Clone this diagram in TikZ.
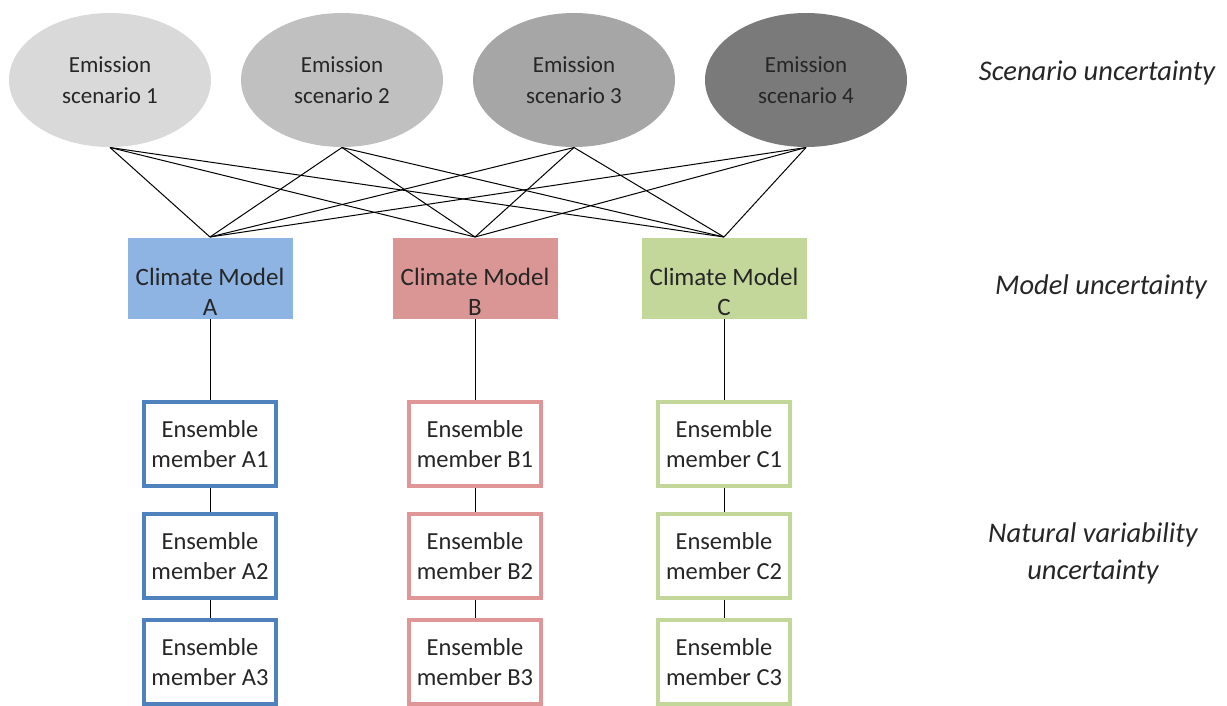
\documentclass[tikz,border=0pt]{standalone}
\usepackage{fontspec}
\setmainfont{Carlito}
\usetikzlibrary{shapes.geometric}
\definecolor{scenone}{RGB}{217,217,217}
\definecolor{scentwo}{RGB}{192,192,192}
\definecolor{scenthree}{RGB}{166,166,166}
\definecolor{scenfour}{RGB}{122,122,122}
\definecolor{modA}{RGB}{141,180,226}
\definecolor{modB}{RGB}{217,150,148}
\definecolor{modC}{RGB}{196,215,155}
\definecolor{lineA}{RGB}{79,129,189}
\definecolor{lineB}{RGB}{224,150,150}
\definecolor{lineC}{RGB}{196,215,155}
\definecolor{txt}{RGB}{38,38,38}
\tikzset{every picture/.style={line width=1pt}}

\begin{document}
\begin{tikzpicture}[x=1pt,y=-1pt]
\useasboundingbox (0,0) rectangle (1227,705);

\begin{scope}[every node/.style={ellipse,minimum width=202pt,minimum height=134pt,
    align=center,text=txt,font=\fontsize{23}{31}\selectfont}]
\node[fill=scenone] (S1) at (110,80) {Emission\\scenario 1};
\node[fill=scentwo] (S2) at (342,80) {Emission\\scenario 2};
\node[fill=scenthree] (S3) at (574,80) {Emission\\scenario 3};
\node[fill=scenfour] (S4) at (806,80) {Emission\\scenario 4};
\end{scope}

\begin{scope}[every node/.style={rectangle,minimum width=165pt,minimum height=81pt},
    every label/.style={align=center,text=txt,font=\fontsize{25}{30}\selectfont,yshift=-14pt}]
\node[fill=modA,label={center:{Climate Model\\A}}] (MA) at (210,278) {};
\node[fill=modB,label={center:{Climate Model\\B}}] (MB) at (475,278) {};
\node[fill=modC,label={center:{Climate Model\\C}}] (MC) at (724,278) {};
\end{scope}

\begin{scope}[every node/.style={rectangle,fill=white,line width=4pt,minimum width=132pt,
    minimum height=84pt,align=center,text=txt,font=\fontsize{24.5}{30}\selectfont}]
\foreach \m/\x/\c in {A/210/lineA,B/475/lineB,C/724/lineC} {
  \node[draw=\c] (\m1) at (\x,444) {Ensemble\\member \m1};
  \node[draw=\c] (\m2) at (\x,556) {Ensemble\\member \m2};
  \node[draw=\c] (\m3) at (\x,662) {Ensemble\\member \m3};
}
\end{scope}

\begin{scope}[every node/.style={align=center,text=txt,font=\fontsize{28.5}{37}\selectfont\itshape}]
\node (LS) at (1097,73) {Scenario uncertainty};
\node (LM) at (1101,287) {Model uncertainty};
\node (LN) at (1093,553) {Natural variability\\uncertainty};
\end{scope}

% connectors
\foreach \s in {S1,S2,S3,S4}
  \foreach \m in {MA,MB,MC}
    \draw (\s.south) -- (\m.north);
\foreach \m in {A,B,C} {
  \draw (M\m.south) -- (\m1.north);
  \draw (\m1.south) -- (\m2.north);
  \draw (\m2.south) -- (\m3.north);
}
\end{tikzpicture}
\end{document}
